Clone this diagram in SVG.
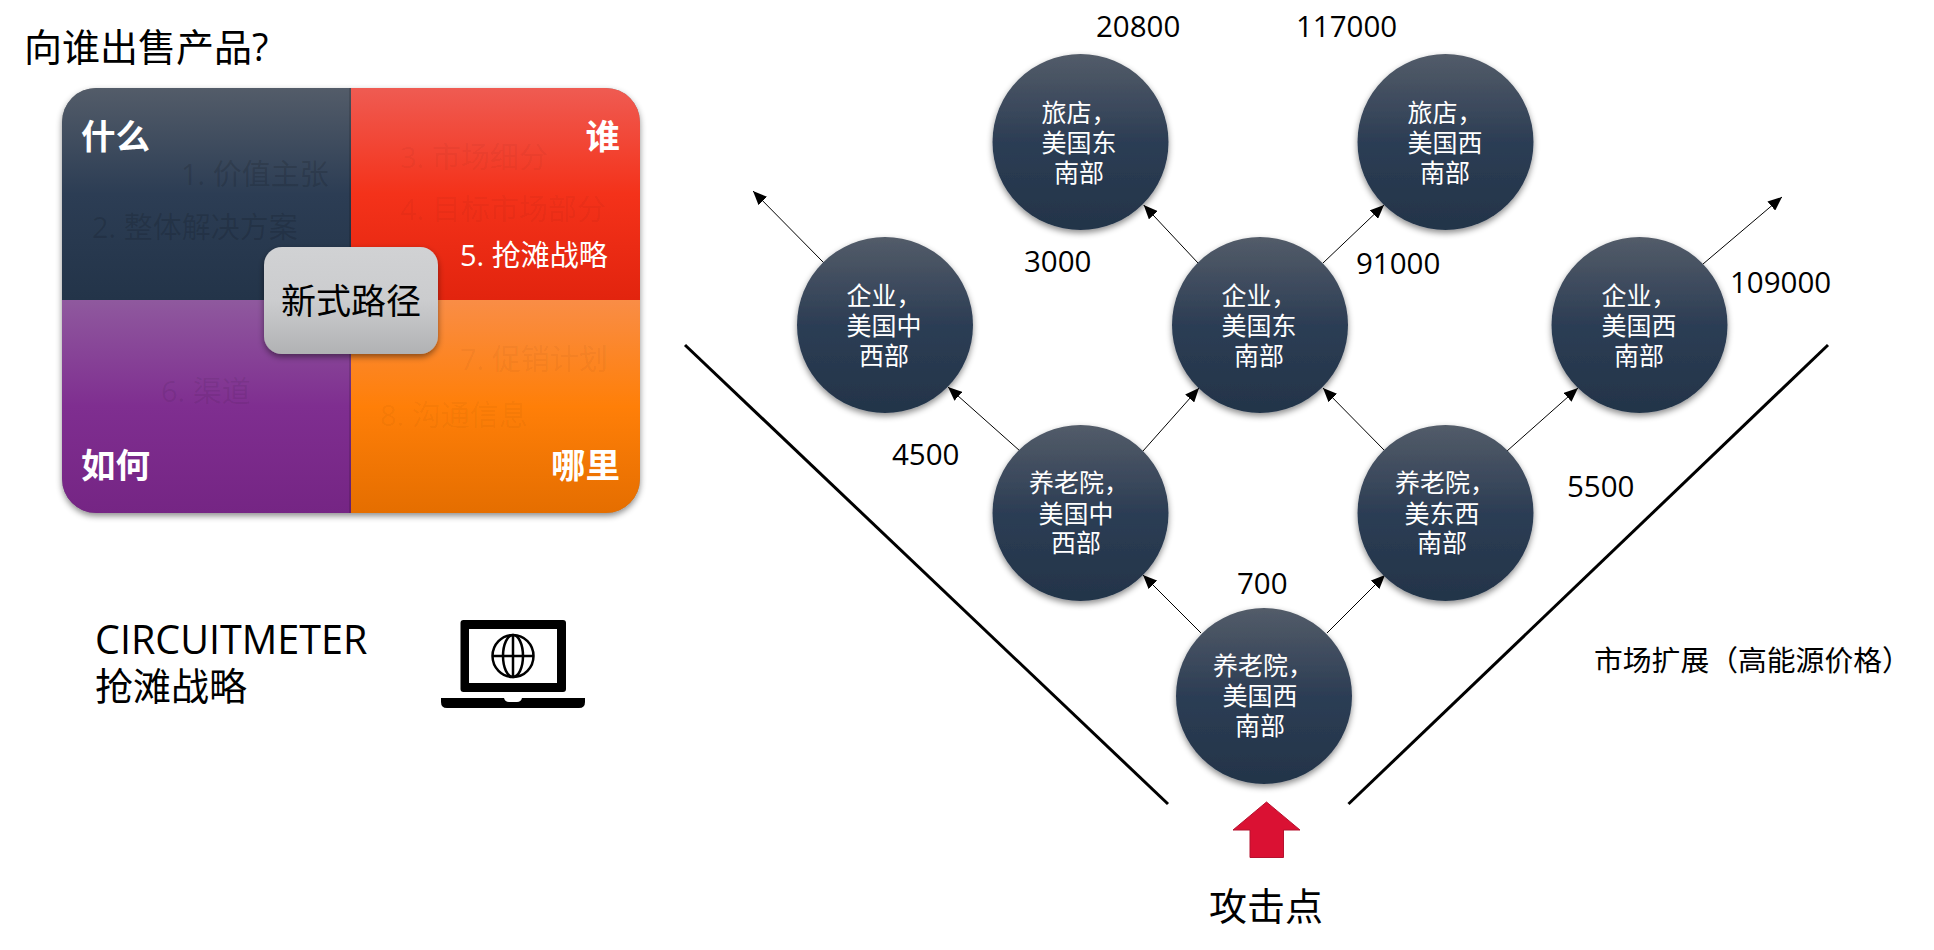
<svg xmlns="http://www.w3.org/2000/svg" width="1934" height="950" viewBox="0 0 1934 950">
<style>
text{font-family:"Open Sans","Noto Sans CJK SC",sans-serif;fill:#000}
.cjk{font-family:"Noto Sans CJK SC",sans-serif}
.num{font-size:29.500px}
.big{font-size:38px}
.nt{font-size:25px;fill:#fff;text-anchor:middle;font-family:"Noto Sans CJK SC",sans-serif;font-weight:400}
.node{fill:url(#gDark);filter:url(#sh)}
.hd{font-size:34.500px;font-weight:700;fill:#fff;font-family:"Noto Sans CJK SC",sans-serif}
.it{font-size:29px}
.fd{fill:#000;fill-opacity:.14}
.fl{fill:#000;fill-opacity:.05}
.con{stroke:#000;stroke-width:1;fill:none;marker-end:url(#ah)}
.v{stroke:#000;stroke-width:3;fill:none}
</style>
<defs>
<linearGradient id="gDark" x1="0" y1="0" x2="0" y2="1"><stop offset="0" stop-color="#535c69"/><stop offset=".5" stop-color="#2c3d54"/><stop offset="1" stop-color="#233449"/></linearGradient>
<linearGradient id="gRed" x1="0" y1="0" x2="0" y2="1"><stop offset="0" stop-color="#ef5b52"/><stop offset=".5" stop-color="#f4321a"/><stop offset="1" stop-color="#e2240e"/></linearGradient>
<linearGradient id="gPur" x1="0" y1="0" x2="0" y2="1"><stop offset="0" stop-color="#8f599e"/><stop offset=".5" stop-color="#7f2e90"/><stop offset="1" stop-color="#752584"/></linearGradient>
<linearGradient id="gOra" x1="0" y1="0" x2="0" y2="1"><stop offset="0" stop-color="#f98d46"/><stop offset=".5" stop-color="#ff7f08"/><stop offset="1" stop-color="#e56e00"/></linearGradient>
<linearGradient id="gGry" x1="0" y1="0" x2="0" y2="1"><stop offset="0" stop-color="#d1d2d4"/><stop offset=".5" stop-color="#cbccce"/><stop offset="1" stop-color="#b1b2b4"/></linearGradient>
<filter id="sh" x="-15%" y="-15%" width="130%" height="130%"><feDropShadow dx="0" dy="3" stdDeviation="3" flood-color="#000" flood-opacity=".45"/></filter>
<marker id="ah" markerUnits="userSpaceOnUse" markerWidth="14" markerHeight="12" refX="14" refY="6" orient="auto"><path d="M0 0L14 6L0 12z" fill="#000"/></marker>
</defs>

<text class="big" x="24" y="61"><tspan class="cjk">向谁出售产品</tspan>?</text>

<g id="card">
<rect x="62" y="88" width="578" height="425" rx="34" fill="#888" filter="url(#sh)"/>
<path d="M62 300V122A34 34 0 0 1 96 88H351V300z" fill="url(#gDark)"/>
<path d="M351 88H606A34 34 0 0 1 640 122V300H351z" fill="url(#gRed)"/>
<path d="M62 300H351V513H96A34 34 0 0 1 62 479z" fill="url(#gPur)"/>
<path d="M351 300H640V479A34 34 0 0 1 606 513H351z" fill="url(#gOra)"/>
<path d="M350 88V513" stroke="#000" stroke-opacity=".18" stroke-width="1.500"/>
<text class="hd" x="81" y="149">什么</text>
<text class="hd" x="620" y="149" text-anchor="end">谁</text>
<text class="hd" x="81" y="478">如何</text>
<text class="hd" x="620" y="478" text-anchor="end">哪里</text>
<text class="it fd" x="181" y="185" style="fill:#000;fill-opacity:.14">1. 价值主张</text>
<text class="it fd" x="92" y="238" style="fill:#000;fill-opacity:.13">2. 整体解决方案</text>
<text class="it fl" x="400" y="168" style="fill:#000;fill-opacity:.05">3. 市场细分</text>
<text class="it fl" x="400" y="220" style="fill:#000;fill-opacity:.05">4. 目标市场部分</text>
<text class="it" x="460" y="266" style="fill:#fff">5. 抢滩战略</text>
<text class="it fl" x="161" y="402" style="fill:#000;fill-opacity:.07">6. 渠道</text>
<text class="it fl" x="460" y="370" style="fill:#000;fill-opacity:.05">7. 促销计划</text>
<text class="it fl" x="380" y="426" style="fill:#000;fill-opacity:.045">8. 沟通信息</text>
</g>
<g id="center">
<rect x="264" y="247" width="174" height="107" rx="18" fill="url(#gGry)" filter="url(#sh)"/>
<text class="cjk" x="351" y="314" font-size="35" text-anchor="middle">新式路径</text>
</g>

<text x="95" y="654" font-size="39.500">CIRCUITMETER</text>
<text class="big cjk" x="95" y="700">抢滩战略</text>

<g id="laptop">
<rect x="460.500" y="620" width="105.500" height="72" rx="3" fill="#000"/>
<rect x="469" y="629" width="88" height="54" fill="#fff"/>
<path d="M441 698H504Q505 702 509 702H517Q521 702 522 698H585V702Q585 708 579 708H447Q441 708 441 702z" fill="#000"/>
<g fill="none" stroke="#000" stroke-width="2.500">
<ellipse cx="513" cy="656" rx="20.500" ry="21"/>
<ellipse cx="513" cy="656" rx="10" ry="21"/>
<path d="M513 635V677M493 656H533"/>
</g>
</g>

<g id="connectors">
<path class="v" d="M685 345L1168 804"/>
<path class="v" d="M1348.500 804L1828 345"/>
<path class="con" d="M1201 633L1143 575"/>
<path class="con" d="M1327 633L1385 575"/>
<path class="con" d="M1020 451L948 387"/>
<path class="con" d="M1143 451L1199 388"/>
<path class="con" d="M1385 451L1323 388"/>
<path class="con" d="M1507 451L1578 388"/>
<path class="con" d="M824 263L753 191"/>
<path class="con" d="M1198 263L1143.700 205"/>
<path class="con" d="M1323 263L1384 205"/>
<path class="con" d="M1703 264L1782 197"/>
</g>

<g id="n-hotel-se">
<circle class="node" cx="1080.500" cy="142" r="88"/>
<text class="nt" x="1079" y="122">旅店，</text><text class="nt" x="1079" y="152">美国东</text><text class="nt" x="1079" y="182">南部</text>
</g>
<g id="n-hotel-sw">
<circle class="node" cx="1445.500" cy="142" r="88"/>
<text class="nt" x="1445" y="122">旅店，</text><text class="nt" x="1445" y="152">美国西</text><text class="nt" x="1445" y="182">南部</text>
</g>
<g id="n-biz-mw">
<circle class="node" cx="885" cy="325" r="88"/>
<text class="nt" x="884" y="305">企业，</text><text class="nt" x="884" y="335">美国中</text><text class="nt" x="884" y="365">西部</text>
</g>
<g id="n-biz-se">
<circle class="node" cx="1260" cy="325" r="88"/>
<text class="nt" x="1259" y="305">企业，</text><text class="nt" x="1259" y="335">美国东</text><text class="nt" x="1259" y="365">南部</text>
</g>
<g id="n-biz-sw">
<circle class="node" cx="1639.500" cy="325" r="88"/>
<text class="nt" x="1639" y="305">企业，</text><text class="nt" x="1639" y="335">美国西</text><text class="nt" x="1639" y="365">南部</text>
</g>
<g id="n-nurs-mw">
<circle class="node" cx="1080.500" cy="513" r="88"/>
<text class="nt" x="1079" y="492">养老院，</text><text class="nt" x="1076" y="523">美国中</text><text class="nt" x="1076" y="552">西部</text>
</g>
<g id="n-nurs-se">
<circle class="node" cx="1445.500" cy="513" r="88"/>
<text class="nt" x="1445" y="492">养老院，</text><text class="nt" x="1442" y="523">美东西</text><text class="nt" x="1442" y="552">南部</text>
</g>
<g id="n-nurs-sw">
<circle class="node" cx="1264" cy="696" r="88"/>
<text class="nt" x="1263" y="675">养老院，</text><text class="nt" x="1260" y="705">美国西</text><text class="nt" x="1260" y="735">南部</text>
</g>

<g id="labels">
<text class="num" x="1096" y="37">20800</text>
<text class="num" x="1296" y="37">117000</text>
<text class="num" x="1024" y="272">3000</text>
<text class="num" x="1356" y="274">91000</text>
<text class="num" x="1730" y="293">109000</text>
<text class="num" x="892" y="465">4500</text>
<text class="num" x="1567" y="497">5500</text>
<text class="num" x="1237" y="594">700</text>
<text class="cjk" x="1594" y="671" font-size="28.800">市场扩展（高能源价格）</text>
</g>

<g id="attack">
<path d="M1266.500 802L1300 830H1283.500V857.500H1250V830H1233z" fill="#da1133" stroke="#b5122f" stroke-width="1"/>
<text class="big cjk" x="1266" y="920" text-anchor="middle">攻击点</text>
</g>
</svg>
